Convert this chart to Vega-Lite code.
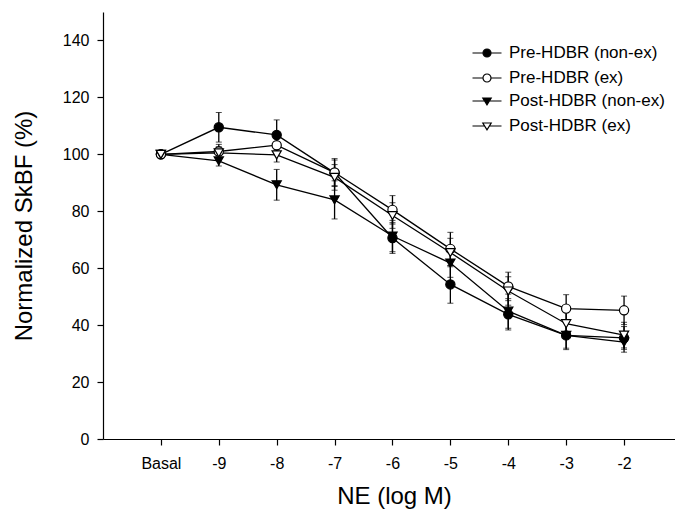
{
  "$schema": "https://vega.github.io/schema/vega-lite/v6.json",
  "width": 572,
  "height": 427,
  "autosize": {"type": "none"},
  "padding": {"left": 103, "top": 12, "right": 0, "bottom": 70},
  "background": "white",
  "config": {
    "view": {"stroke": null},
    "font": "Liberation Sans",
    "axis": {
      "grid": false,
      "domainColor": "black",
      "domainWidth": 1.2,
      "tickColor": "black",
      "tickWidth": 1.2,
      "tickSize": 6,
      "labelColor": "black",
      "labelFontSize": 16,
      "labelFlush": false,
      "labelOverlap": false,
      "titleColor": "black",
      "titleFontSize": 24,
      "titleFontWeight": "normal"
    },
    "legend": {
      "orient": "none",
      "padding": 0,
      "symbolSize": 400,
      "symbolStrokeWidth": 1.2,
      "labelFontSize": 17,
      "labelColor": "black",
      "labelOffset": 11,
      "labelLimit": 300,
      "rowPadding": 6
    }
  },
  "data": {
    "values": [
      {"series": "Pre-HDBR (non-ex)", "ne": -10, "skbf": 100, "err": 0},
      {"series": "Pre-HDBR (non-ex)", "ne": -9, "skbf": 109.5, "err": 5.2},
      {"series": "Pre-HDBR (non-ex)", "ne": -8, "skbf": 106.8, "err": 5.3},
      {"series": "Pre-HDBR (non-ex)", "ne": -7, "skbf": 93.5, "err": 4.5},
      {"series": "Pre-HDBR (non-ex)", "ne": -6, "skbf": 70.6, "err": 5.4},
      {"series": "Pre-HDBR (non-ex)", "ne": -5, "skbf": 54.3, "err": 6.6},
      {"series": "Pre-HDBR (non-ex)", "ne": -4, "skbf": 43.8, "err": 5.5},
      {"series": "Pre-HDBR (non-ex)", "ne": -3, "skbf": 36.4, "err": 5},
      {"series": "Pre-HDBR (non-ex)", "ne": -2, "skbf": 35.5, "err": 4},
      {"series": "Pre-HDBR (ex)", "ne": -10, "skbf": 100, "err": 0},
      {"series": "Pre-HDBR (ex)", "ne": -9, "skbf": 101, "err": 2.5},
      {"series": "Pre-HDBR (ex)", "ne": -8, "skbf": 103.2, "err": 2.5},
      {"series": "Pre-HDBR (ex)", "ne": -7, "skbf": 93.6, "err": 4.9},
      {"series": "Pre-HDBR (ex)", "ne": -6, "skbf": 80.5, "err": 5},
      {"series": "Pre-HDBR (ex)", "ne": -5, "skbf": 66.8, "err": 5.8},
      {"series": "Pre-HDBR (ex)", "ne": -4, "skbf": 53.6, "err": 5},
      {"series": "Pre-HDBR (ex)", "ne": -3, "skbf": 45.8, "err": 4.9},
      {"series": "Pre-HDBR (ex)", "ne": -2, "skbf": 45.2, "err": 5},
      {"series": "Post-HDBR (non-ex)", "ne": -10, "skbf": 100, "err": 0},
      {"series": "Post-HDBR (non-ex)", "ne": -9, "skbf": 97.7, "err": 1.8},
      {"series": "Post-HDBR (non-ex)", "ne": -8, "skbf": 89.3, "err": 5.4},
      {"series": "Post-HDBR (non-ex)", "ne": -7, "skbf": 84, "err": 6.7},
      {"series": "Post-HDBR (non-ex)", "ne": -6, "skbf": 71.3, "err": 5.5},
      {"series": "Post-HDBR (non-ex)", "ne": -5, "skbf": 61.8, "err": 5},
      {"series": "Post-HDBR (non-ex)", "ne": -4, "skbf": 44.9, "err": 6},
      {"series": "Post-HDBR (non-ex)", "ne": -3, "skbf": 36.4, "err": 4.5},
      {"series": "Post-HDBR (non-ex)", "ne": -2, "skbf": 34.0, "err": 3.5},
      {"series": "Post-HDBR (ex)", "ne": -10, "skbf": 100, "err": 0},
      {"series": "Post-HDBR (ex)", "ne": -9, "skbf": 100.5, "err": 2.2},
      {"series": "Post-HDBR (ex)", "ne": -8, "skbf": 99.8, "err": 2.5},
      {"series": "Post-HDBR (ex)", "ne": -7, "skbf": 91.9, "err": 4.5},
      {"series": "Post-HDBR (ex)", "ne": -6, "skbf": 78.5, "err": 4.5},
      {"series": "Post-HDBR (ex)", "ne": -5, "skbf": 65.5, "err": 5},
      {"series": "Post-HDBR (ex)", "ne": -4, "skbf": 52, "err": 5},
      {"series": "Post-HDBR (ex)", "ne": -3, "skbf": 40.5, "err": 4.5},
      {"series": "Post-HDBR (ex)", "ne": -2, "skbf": 36.5, "err": 4.5}
    ]
  },
  "encoding": {
    "x": {
      "field": "ne",
      "type": "quantitative",
      "scale": {"domain": [-11, -1.12], "nice": false, "zero": false},
      "axis": {
        "title": "NE (log M)",
        "values": [-10, -9, -8, -7, -6, -5, -4, -3, -2],
        "labelExpr": "datum.value == -10 ? 'Basal' : '' + datum.value",
        "labelPadding": 10,
        "titleX": 291,
        "titleY": 64,
        "titleBaseline": "alphabetic"
      }
    },
    "y": {
      "field": "skbf",
      "type": "quantitative",
      "scale": {"domain": [0, 150], "nice": false},
      "axis": {
        "title": "Normalized SkBF (%)",
        "values": [0, 20, 40, 60, 80, 100, 120, 140],
        "labelPadding": 8,
        "titleX": -72,
        "titleBaseline": "alphabetic"
      }
    }
  },
  "resolve": {"scale": {"fill": "independent"}, "legend": {"fill": "independent"}},
  "layer": [
    {
      "mark": {"type": "line", "color": "black", "strokeWidth": 1.3},
      "encoding": {"detail": {"field": "series"}}
    },
    {
      "transform": [{"filter": "datum.err > 0"}],
      "mark": {
        "type": "errorbar",
        "ticks": {"size": 6, "color": "black", "strokeWidth": 1.3},
        "rule": {"color": "black", "strokeWidth": 1.3}
      },
      "encoding": {
        "yError": {"field": "err"},
        "detail": {"field": "series"}
      }
    },
    {
      "transform": [{"filter": {"field": "series", "oneOf": ["Pre-HDBR (non-ex)", "Pre-HDBR (ex)"]}}],
      "mark": {"type": "point", "shape": "circle", "filled": true, "opacity": 1, "stroke": "black", "strokeWidth": 1.2, "size": 85},
      "encoding": {
        "fill": {
          "field": "series",
          "type": "nominal",
          "scale": {
            "domain": ["Pre-HDBR (non-ex)", "Pre-HDBR (ex)"],
            "range": ["black", "white"]
          },
          "legend": {
            "title": null,
            "legendX": 373,
            "legendY": 30,
            "symbolType": "M-1.45,0H-0.4M0.4,0H1.45M-0.4,0A0.4,0.4,0,1,0,0.4,0A0.4,0.4,0,1,0,-0.4,0Z",
            "symbolStrokeColor": "black"
          }
        }
      }
    },
    {
      "transform": [{"filter": {"field": "series", "oneOf": ["Post-HDBR (non-ex)", "Post-HDBR (ex)"]}}],
      "mark": {"type": "point", "shape": "triangle-down", "filled": true, "opacity": 1, "stroke": "black", "strokeWidth": 1.2, "size": 85},
      "encoding": {
        "fill": {
          "field": "series",
          "type": "nominal",
          "scale": {
            "domain": ["Post-HDBR (non-ex)", "Post-HDBR (ex)"],
            "range": ["black", "white"]
          },
          "legend": {
            "title": null,
            "legendX": 373,
            "legendY": 78,
            "symbolType": "M-1.45,0H-0.235M0.235,0H1.45M-0.42,-0.3L0.42,-0.3L0,0.38Z",
            "symbolStrokeColor": "black"
          }
        }
      }
    }
  ]
}
